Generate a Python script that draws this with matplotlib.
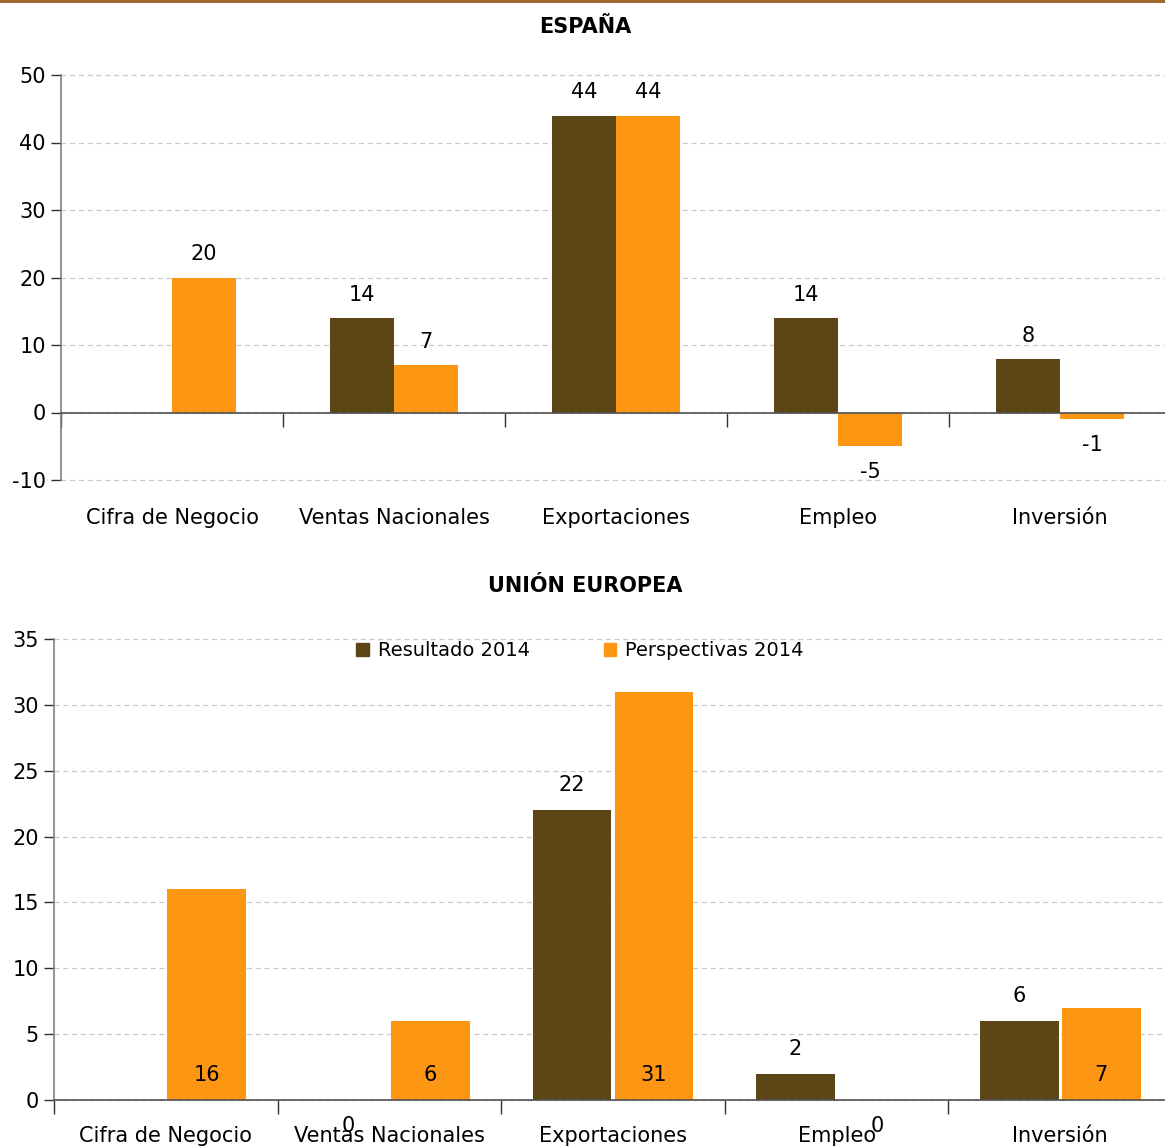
import numpy as np
import matplotlib
matplotlib.use("Agg")
import matplotlib.pyplot as plt
from matplotlib.patches import Rectangle, Patch
from matplotlib.transforms import blended_transform_factory, offset_copy

cats = ['Cifra de Negocio', 'Ventas Nacionales', 'Exportaciones', 'Empleo', 'Inversión']
es_res = [np.nan, 14, 44, 14, 8]
es_per = [20, 7, 44, -5, -1]
ue_res = [np.nan, 0, 22, 2, 6]
ue_per = [16, 6, 31, 0, 7]
series_names = ['Resultado 2014', 'Perspectivas 2014']

BROWN = '#5C4616'
ORANGE = '#FD9612'
FS = 15

plt.rcParams['font.family'] = ['DejaVu Sans']
plt.rcParams['axes.unicode_minus'] = False

fig = plt.figure(figsize=(11.65, 11.48), dpi=100)
fig.add_artist(Rectangle((0, 1 - 3/1148), 1, 3/1148, transform=fig.transFigure,
                         color='#A0692F', lw=0))

def style_axes(ax, ylim, step, ticklen=7):
    ax.set_xlim(-0.5, 4.5)
    ax.set_ylim(*ylim)
    ax.set_yticks(np.arange(ylim[0], ylim[1] + 0.1, step))
    ax.yaxis.grid(True, linestyle=(0, (4, 3)), color='#C8C8C8', lw=0.9)
    for gl in ax.get_ygridlines():
        gl.set_clip_on(False)
    ax.set_axisbelow(True)
    for s in ['top', 'right']:
        ax.spines[s].set_visible(False)
    ax.spines['left'].set_color('#808080')
    ax.spines['left'].set_linewidth(1.2)
    ax.spines['bottom'].set_position(('data', 0))
    ax.spines['bottom'].set_color('#505050')
    ax.spines['bottom'].set_linewidth(1.2)
    ax.set_xticks(np.arange(-0.5, 5, 1))
    ax.set_xticklabels([])
    ax.tick_params(axis='x', direction='out', length=10, color='#303030', width=1)
    ax.tick_params(axis='y', direction='out', length=ticklen, color='#303030',
                   width=1, labelsize=FS, pad=4)

def add_cat_labels(ax, dy):
    tr = offset_copy(blended_transform_factory(ax.transData, ax.transAxes),
                     fig=fig, x=0, y=-dy, units='dots')
    for i, c in enumerate(cats):
        ax.text(i, 0, c, transform=tr, ha='center', va='center', fontsize=FS)

x = np.arange(len(cats))

# ---- Top: España ----
ax1 = fig.add_axes([61/1165, 1 - 480/1148, 1110/1165, 405/1148])
style_axes(ax1, (-10, 50), 10)
w1 = 0.288
ax1.bar(x - w1/2, es_res, w1, color=BROWN, zorder=2)
ax1.bar(x + w1/2, es_per, w1, color=ORANGE, zorder=2)
for xs, vals in [(x - w1/2, es_res), (x + w1/2, es_per)]:
    for xi, v in zip(xs, vals):
        if np.isnan(v):
            continue
        off = 23 if v >= 0 else -26
        ax1.annotate(f'{v:g}', (xi, v), xytext=(0, off), textcoords='offset pixels',
                     ha='center', va='center', fontsize=FS)
add_cat_labels(ax1, 38)
fig.text(585/1165, 1 - 27/1148, 'ESPAÑA', ha='center', va='center',
         fontsize=FS, fontweight='bold')

# ---- Bottom: Unión Europea ----
ax2 = fig.add_axes([54/1165, 1 - 1100/1148, 1118/1165, 461/1148])
style_axes(ax2, (0, 35), 5)
w2 = 0.353
off2 = 0.1835
ax2.bar(x - off2, ue_res, w2, color=BROWN, zorder=2)
ax2.bar(x + off2, ue_per, w2, color=ORANGE, zorder=2)
for xi, v in zip(x - off2, ue_res):
    if np.isnan(v):
        continue
    off = 25 if v > 0 else -26
    ax2.annotate(f'{v:g}', (xi, v), xytext=(0, off), textcoords='offset pixels',
                 ha='center', va='center', fontsize=FS)
for xi, v in zip(x + off2, ue_per):
    off = 25 if v > 0 else -26
    ax2.annotate(f'{v:g}', (xi, 0), xytext=(0, off), textcoords='offset pixels',
                 ha='center', va='center', fontsize=FS)
add_cat_labels(ax2, 36)
fig.text(585/1165, 1 - 586/1148, 'UNIÓN EUROPEA', ha='center', va='center',
         fontsize=FS, fontweight='bold')

handles = [Patch(color=BROWN), Patch(color=ORANGE)]
fig.legend(handles, series_names, loc='center', bbox_to_anchor=(580/1165, 1 - 651/1148),
           ncol=2, frameon=False, fontsize=FS - 1, handlelength=0.65, handleheight=0.65,
           handletextpad=0.45, columnspacing=3.8, borderpad=0)

fig.savefig('out.png', dpi=100)
